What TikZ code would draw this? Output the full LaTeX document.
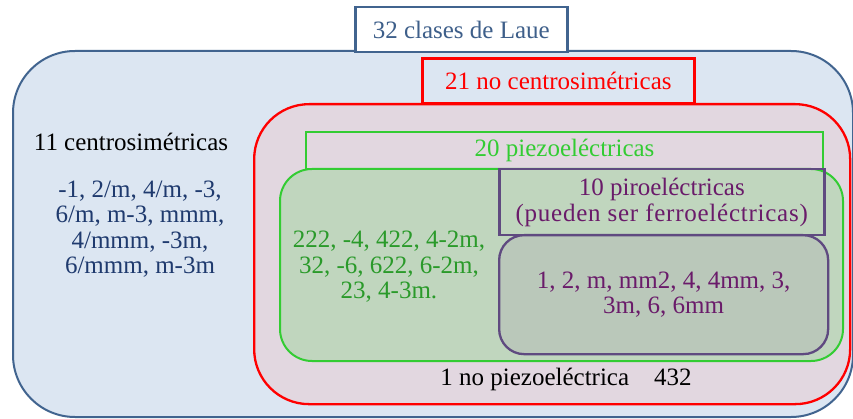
\documentclass[tikz,border=0pt]{standalone}
\usepackage{fontspec}
\setmainfont{Liberation Serif}
\definecolor{bgblue}{HTML}{DCE6F2}
\definecolor{bordblue}{HTML}{41648F}
\definecolor{pinkfill}{HTML}{E2D7E0}
\definecolor{redline}{HTML}{FF0000}
\definecolor{greenline}{HTML}{33CC33}
\definecolor{greenfill}{HTML}{C0D6BE}
\definecolor{purpline}{HTML}{5F4A80}
\definecolor{purpfill}{HTML}{BAC8BA}
\definecolor{titleblue}{HTML}{3E5F8A}
\definecolor{listblue}{HTML}{1F3A6E}
\definecolor{greentext}{HTML}{2A9A2A}
\definecolor{purptext}{HTML}{6A1B6A}
\begin{document}
\begin{tikzpicture}[x=1pt,y=-1pt,
  box/.style={rectangle,anchor=north west,inner sep=0pt},
  txt/.style={align=center,inner sep=0pt,font=\fontsize{25}{25.5}\selectfont}]
\useasboundingbox (0,0) rectangle (853,419);
% outer blue
\node[box,draw=bordblue,fill=bgblue,line width=2pt,rounded corners=62pt,minimum width=840pt,minimum height=366pt] (outer) at (12,50) {};
% red rounded
\node[box,draw=redline,fill=pinkfill,line width=2.3pt,rounded corners=55pt,minimum width=596pt,minimum height=300pt] (nocent) at (253,103) {};
% red label
\node[box,draw=redline,line width=2.8pt,minimum width=272pt,minimum height=45pt] (nocentlab) at (421,57) {};
\node[txt,text=redline] (nocenttxt) at (nocentlab.center) {21 no centrosimétricas};
% green label
\node[box,draw=greenline,line width=2pt,minimum width=517pt,minimum height=37pt] (piezolab) at (305,131) {};
\node[txt,text=greenline] (piezotxt) at (piezolab.center) {20 piezoeléctricas};
% green rounded
\node[box,draw=greenline,fill=greenfill,line width=2pt,rounded corners=32pt,minimum width=563pt,minimum height=192pt] (piezo) at (279,168) {};
% purple label
\node[box,draw=purpline,line width=2.5pt,minimum width=325pt,minimum height=66pt] (pirolab) at (498,168) {};
\node[txt,text=purptext] (pirotxt) at (pirolab.center) {10 piroeléctricas\\{\addfontfeature{LetterSpace=3}(pueden ser ferroeléctricas)}};
% purple rounded
\node[box,draw=purpline,fill=purpfill,line width=2.3pt,rounded corners=25pt,minimum width=329pt,minimum height=119pt] (piro) at (498,234) {};
\node[txt,text=purptext] (pirolist) at (piro.center) {1, 2, m, mm2, 4, 4mm, 3,\\3m, 6, 6mm};
% title
\node[box,draw=bordblue,fill=white,line width=2.5pt,minimum width=212pt,minimum height=45pt] (title) at (354,6) {};
\node[txt,text=titleblue] (titletxt) at (title.center) {32 clases de Laue};
% left texts
\node[txt,text=black] (centtxt) at (131,142) {11 centrosimétricas};
\node[txt,text=listblue] (centlist) at (140,229) {-1, 2/m, 4/m, -3,\\6/m, m-3, mmm,\\4/mmm, -3m,\\6/mmm, m-3m};
% piezo list
\node[txt,text=greentext] (piezolist) at (389,267) {222, -4, 422, 4-2m,\\32, -6, 622, 6-2m,\\23, 4-3m.};
% bottom
\node[txt,text=black] (nopiezo) at (566,379) {1 no piezoeléctrica\quad 432};
\end{tikzpicture}
\end{document}
